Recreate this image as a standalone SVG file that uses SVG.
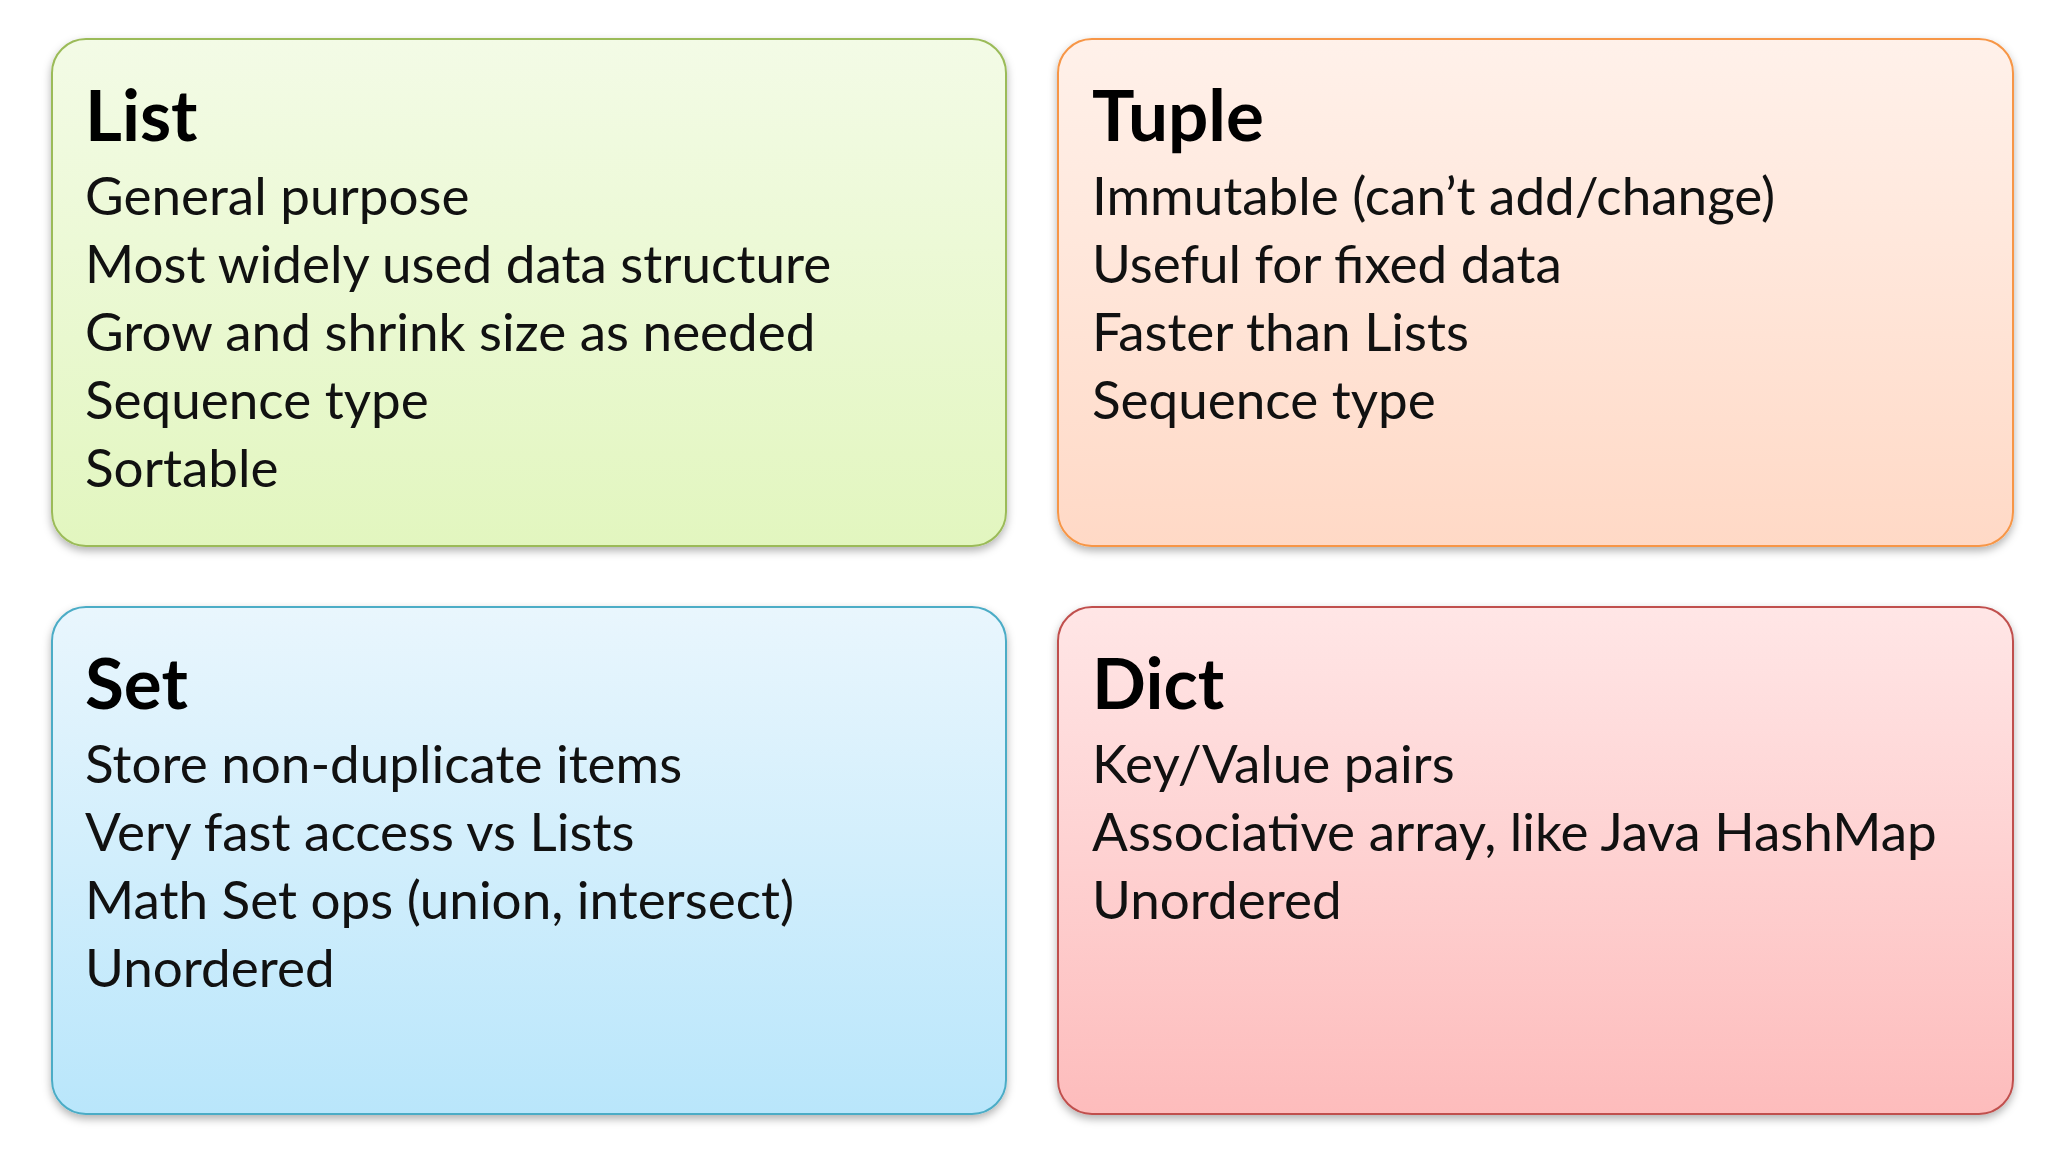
<svg xmlns="http://www.w3.org/2000/svg" width="2048" height="1152" viewBox="0 0 2048 1152">
<defs>
<linearGradient id="gL" x1="0" y1="0" x2="0" y2="1"><stop offset="0" stop-color="#f3fbe6"/><stop offset="1" stop-color="#e2f6bf"/></linearGradient>
<linearGradient id="gT" x1="0" y1="0" x2="0" y2="1"><stop offset="0" stop-color="#fff1ea"/><stop offset="1" stop-color="#ffd9c6"/></linearGradient>
<linearGradient id="gS" x1="0" y1="0" x2="0" y2="1"><stop offset="0" stop-color="#e9f6fd"/><stop offset="1" stop-color="#b9e6fb"/></linearGradient>
<linearGradient id="gD" x1="0" y1="0" x2="0" y2="1"><stop offset="0" stop-color="#ffe6e6"/><stop offset="1" stop-color="#fdbcbc"/></linearGradient>
<filter id="sh" x="-5%" y="-5%" width="110%" height="115%"><feDropShadow dx="0" dy="4" stdDeviation="4" flood-color="#000" flood-opacity="0.3"/></filter>
</defs>
<style>
rect{stroke-width:2;filter:url(#sh)}
.t{font-family:Lato,"Liberation Sans",sans-serif;font-weight:bold;font-size:71px;fill:#000}
.b{font-family:Lato,"Liberation Sans",sans-serif;font-size:53px;fill:#111}
</style>
<rect width="2048" height="1152" fill="#fff" style="filter:none"/>
<g id="list">
<rect x="52" y="39" width="954" height="507" rx="34" fill="url(#gL)" stroke="#9bbb59"/>
<text class="t" x="85" y="141">List</text>
<text class="b" x="85" y="215">General purpose</text>
<text class="b" x="85" y="283">Most widely used data structure</text>
<text class="b" x="85" y="351">Grow and shrink size as needed</text>
<text class="b" x="85" y="419">Sequence type</text>
<text class="b" x="85" y="487">Sortable</text>
</g>
<g id="tuple">
<rect x="1058" y="39" width="955" height="507" rx="34" fill="url(#gT)" stroke="#f79646"/>
<text class="t" x="1092" y="141">Tuple</text>
<text class="b" x="1092" y="215">Immutable (can’t add/change)</text>
<text class="b" x="1092" y="283">Useful for fixed data</text>
<text class="b" x="1092" y="351">Faster than Lists</text>
<text class="b" x="1092" y="419">Sequence type</text>
</g>
<g id="set">
<rect x="52" y="607" width="954" height="507" rx="34" fill="url(#gS)" stroke="#4bacc6"/>
<text class="t" x="85" y="709">Set</text>
<text class="b" x="85" y="783">Store non-duplicate items</text>
<text class="b" x="85" y="851">Very fast access vs Lists</text>
<text class="b" x="85" y="919">Math Set ops (union, intersect)</text>
<text class="b" x="85" y="987">Unordered</text>
</g>
<g id="dict">
<rect x="1058" y="607" width="955" height="507" rx="34" fill="url(#gD)" stroke="#c0504d"/>
<text class="t" x="1092" y="709">Dict</text>
<text class="b" x="1092" y="783">Key/Value pairs</text>
<text class="b" x="1092" y="851">Associative array, like Java HashMap</text>
<text class="b" x="1092" y="919">Unordered</text>
</g>
<g id="connectors"/>
</svg>
